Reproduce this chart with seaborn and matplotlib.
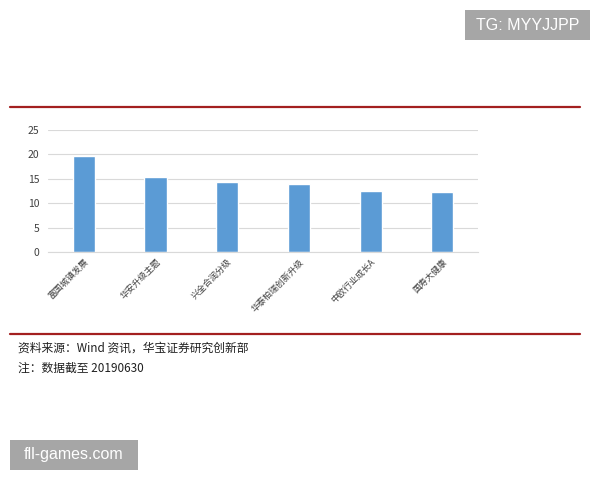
import matplotlib
matplotlib.use("Agg")
import matplotlib.pyplot as plt
from matplotlib.lines import Line2D
from matplotlib.patches import Rectangle
import seaborn as sns
import pandas as pd

categories = ["富国城镇发展", "华安升级主题", "兴全合润分级", "华泰柏瑞创新升级", "中欧行业成长A", "国寿大健康"]
values = [19.6, 15.4, 14.4, 14.0, 12.6, 12.3]
yticks = [0, 5, 10, 15, 20, 25]

sns.set_theme(style="white")
plt.rcParams['font.family'] = ['Noto Sans CJK SC', 'DejaVu Sans']

df = pd.DataFrame({"name": categories, "value": values})

fig = plt.figure(figsize=(6, 4.8), dpi=100)
ax = fig.add_axes([0.08, 0.475, 0.717, 0.254])
sns.barplot(data=df, x="name", y="value", color="#5B9BD5", width=0.31, ax=ax, saturation=1)

ax.set_ylim(0, 25)
ax.set_yticks(yticks)
ax.set_yticklabels([str(t) for t in yticks], fontsize=7.5, color="#404040")
ax.yaxis.grid(True, color="#D9D9D9", linewidth=0.8)
ax.set_axisbelow(True)
for s in ["top", "right", "left"]:
    ax.spines[s].set_visible(False)
ax.spines["bottom"].set_color("#D9D9D9")
ax.spines["bottom"].set_linewidth(0.8)
ax.tick_params(axis="both", length=0, pad=6)
ax.set_xlabel("")
ax.set_ylabel("")
ax.set_xticks(range(len(categories)))
ax.set_xticklabels(categories, rotation=45, ha="right", rotation_mode="anchor",
                   fontsize=6.3, color="#404040")
ax.tick_params(axis="x", pad=4)

# red separator lines
fig.add_artist(Line2D([10/600, 580/600], [1-107/480, 1-107/480], color="#A31F1F", linewidth=1.6))
fig.add_artist(Line2D([10/600, 580/600], [1-334/480, 1-334/480], color="#A31F1F", linewidth=1.6))

fig.text(18/600, 1-348/480, "资料来源：Wind 资讯，华宝证券研究创新部", fontsize=8.5,
         color="#202020", va="center", ha="left")
fig.text(18/600, 1-368/480, "注：数据截至 20190630", fontsize=8.5,
         color="#202020", va="center", ha="left")

# watermark boxes
fig.add_artist(Rectangle((465/600, 1-40/480), 125/600, 30/480, transform=fig.transFigure,
                         facecolor="#A6A6A6", edgecolor="none"))
fig.text(527.5/600, 1-25/480, "TG: MYYJJPP", fontsize=11.5, color="white", ha="center", va="center",
         family=['Liberation Sans'])
fig.add_artist(Rectangle((10/600, 1-470/480), 128/600, 30/480, transform=fig.transFigure,
                         facecolor="#A6A6A6", edgecolor="none"))
fig.text(74/600, 1-455/480, "fll-games.com", fontsize=11.5, color="white", ha="center", va="center",
         family=['Liberation Sans'])

fig.savefig("out.png", dpi=100, facecolor="white")
